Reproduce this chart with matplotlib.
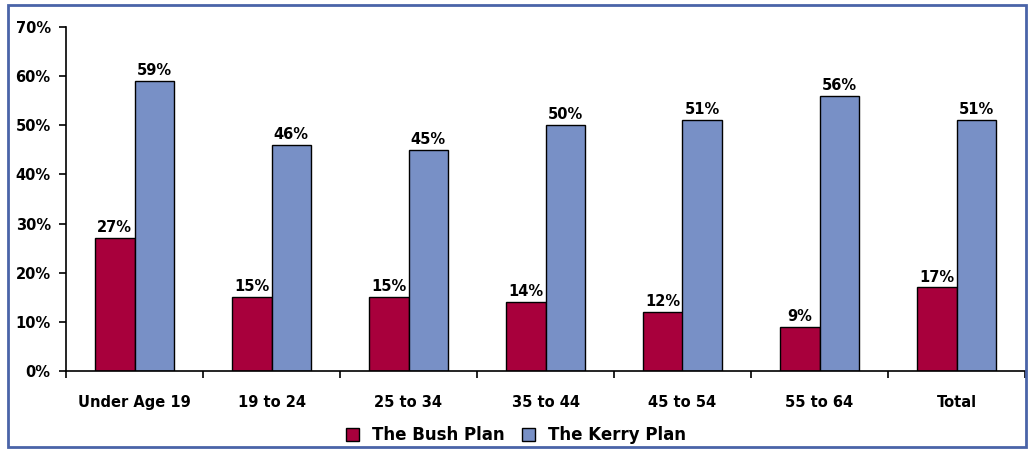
import matplotlib
matplotlib.use("Agg")
import matplotlib.pyplot as plt
from matplotlib.patches import Rectangle
import numpy as np

categories = ["Under Age 19", "19 to 24", "25 to 34", "35 to 44", "45 to 54", "55 to 64", "Total"]
bush = [27, 15, 15, 14, 12, 9, 17]
kerry = [59, 46, 45, 50, 51, 56, 51]
series_names = ["The Bush Plan", "The Kerry Plan"]
yticks = [0, 10, 20, 30, 40, 50, 60, 70]

bush_color = "#A8003C"
kerry_color = "#7890C6"
font = ["DejaVu Sans"]

fig = plt.figure(figsize=(10.28, 4.51), dpi=100)
W, H = 1028, 451
ax = fig.add_axes([66 / W, 1 - 371 / H, (1025 - 66) / W, (371 - 27) / H])

x = np.arange(len(categories))
bw = 0.29
b1 = ax.bar(x - bw / 2, bush, bw, color=bush_color, edgecolor="black", linewidth=1.0)
b2 = ax.bar(x + bw / 2, kerry, bw, color=kerry_color, edgecolor="black", linewidth=1.0)

for bars, vals in ((b1, bush), (b2, kerry)):
    for r, v in zip(bars, vals):
        ax.text(r.get_x() + r.get_width() / 2, v + 0.6, f"{v}%", ha="center", va="bottom",
                fontsize=10.5, fontweight="bold", family=font)

ax.set_xlim(-0.5, len(categories) - 0.5)
ax.set_ylim(0, 70)
ax.set_yticks(yticks)
ax.set_yticklabels([f"{t}%" for t in yticks], fontsize=10.5, fontweight="bold", family=font)
ax.set_xticks(x)
ax.set_xticklabels(categories, fontsize=10.5, fontweight="bold", family=font)
ax.set_xticks(np.arange(len(categories) + 1) - 0.5, minor=True)
ax.tick_params(axis="x", which="major", length=0, pad=17)
ax.tick_params(axis="x", which="minor", length=5, width=1.2, direction="out")
ax.tick_params(axis="y", length=5, width=1.2, direction="out", pad=6)
for s in ("top", "right"):
    ax.spines[s].set_visible(False)
for s in ("left", "bottom"):
    ax.spines[s].set_linewidth(1.2)

handles = [Rectangle((0, 0), 1, 1, facecolor=bush_color, edgecolor="black", linewidth=1.0),
           Rectangle((0, 0), 1, 1, facecolor=kerry_color, edgecolor="black", linewidth=1.0)]
fig.legend(handles, series_names, loc="center", bbox_to_anchor=(516 / W, 1 - 435 / H),
           ncol=2, frameon=False, handlelength=0.8, handleheight=0.8, handletextpad=0.8,
           columnspacing=1.0, prop={"family": font, "weight": "bold", "size": 12})

# outer frame
fig.add_artist(Rectangle((8 / W, 4 / H), (1026 - 8) / W, (446 - 4) / H,
                         transform=fig.transFigure, fill=False, edgecolor="#4A64A8", linewidth=2))

fig.savefig("out.png", dpi=100)
